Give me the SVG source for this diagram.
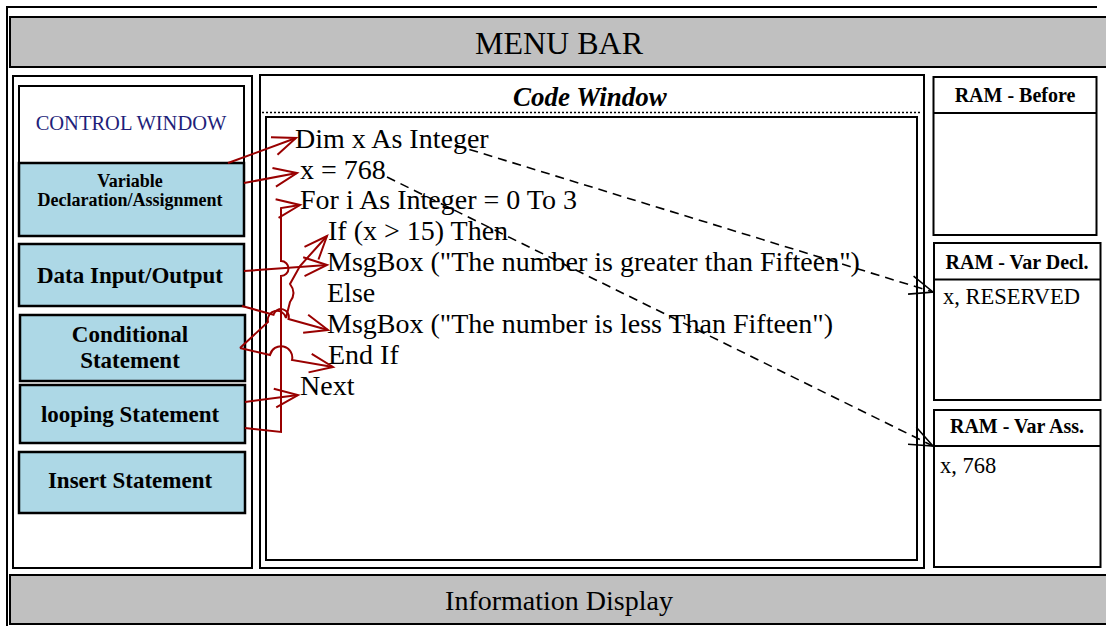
<svg xmlns="http://www.w3.org/2000/svg" width="1106" height="626" viewBox="0 0 1106 626">
  <style>
    .frame { fill: none; stroke: #000; stroke-width: 2; }
    .bar { fill: #c0c0c0; stroke: #000; stroke-width: 2; }
    .panel { fill: #fff; stroke: #000; stroke-width: 2; }
    .btn { fill: #add8e6; stroke: #000; stroke-width: 2.5; }
    .serif { font-family: "Liberation Serif", "Times New Roman", serif; fill: #000; }
    .btntxt { font-family: "Liberation Serif", "Times New Roman", serif; font-weight: bold; text-anchor: middle; fill: #000; }
    .code { font-family: "Liberation Serif", "Times New Roman", serif; font-size: 28px; fill: #000; }
    .ramhead { font-family: "Liberation Serif", "Times New Roman", serif; font-weight: bold; font-size: 20px; text-anchor: middle; fill: #000; }
    .red { fill: none; stroke: #990000; stroke-width: 2; marker-end: url(#arrRed); }
    .dash { fill: none; stroke: #000; stroke-width: 1.6; stroke-dasharray: 9 6; marker-end: url(#arrBlack); }
  </style>
  <defs>
    <marker id="arrRed" markerUnits="userSpaceOnUse" viewBox="0 0 30 22" markerWidth="30" markerHeight="22" refX="26" refY="11" orient="auto">
      <path d="M2.8,1.6 L26,11 L2.8,20.4" fill="none" stroke="#990000" stroke-width="2"/>
    </marker>
    <marker id="arrBlack" markerUnits="userSpaceOnUse" viewBox="0 0 30 22" markerWidth="30" markerHeight="22" refX="26" refY="11" orient="auto">
      <path d="M2.8,1.6 L26,11 L2.8,20.4" fill="none" stroke="#000" stroke-width="1.6"/>
    </marker>
  </defs>

  <rect width="1106" height="626" fill="#fff"/>

  <!-- outer frame -->
  <g id="frame">
    <path class="frame" d="M7,640 L7,7 L1097,7"/>
  </g>

  <!-- menu bar -->
  <g id="menu-bar">
    <rect class="bar" x="10" y="17" width="1100" height="50"/>
    <text class="serif" x="559" y="54" font-size="32" text-anchor="middle">MENU BAR</text>
  </g>

  <!-- left control panel -->
  <g id="control-panel">
    <rect class="panel" x="13" y="76" width="239" height="492"/>
  </g>
  <g id="control-window">
    <rect class="panel" x="19" y="86" width="225" height="77"/>
    <text class="serif" x="131" y="130" font-size="20.5" text-anchor="middle" style="fill:#1f1f7a">CONTROL WINDOW</text>
  </g>
  <g id="btn-variable">
    <rect class="btn" x="19" y="163" width="225" height="73"/>
    <text class="btntxt" x="130" y="187" font-size="18">Variable</text>
    <text class="btntxt" x="130" y="206" font-size="18">Declaration/Assignment</text>
  </g>
  <g id="btn-io">
    <rect class="btn" x="19" y="244" width="225" height="62"/>
    <text class="btntxt" x="130" y="283" font-size="23">Data Input/Output</text>
  </g>
  <g id="btn-conditional">
    <rect class="btn" x="20" y="315" width="225" height="66"/>
    <text class="btntxt" x="130" y="342" font-size="23">Conditional</text>
    <text class="btntxt" x="130" y="368" font-size="23">Statement</text>
  </g>
  <g id="btn-looping">
    <rect class="btn" x="20" y="385" width="225" height="58"/>
    <text class="btntxt" x="130" y="422" font-size="23">looping Statement</text>
  </g>
  <g id="btn-insert">
    <rect class="btn" x="19" y="452" width="226" height="61"/>
    <text class="btntxt" x="130" y="488" font-size="23">Insert Statement</text>
  </g>

  <!-- code window -->
  <g id="code-window">
    <rect class="panel" x="260" y="75" width="664" height="493"/>
    <text class="serif" x="590" y="106" font-size="27" font-weight="bold" font-style="italic" text-anchor="middle">Code Window</text>
    <line x1="262" y1="112.5" x2="922" y2="112.5" stroke="#000" stroke-width="1.6" stroke-dasharray="2 2"/>
    <rect class="panel" x="266" y="117" width="651" height="443"/>
    <text class="code" x="295" y="148">Dim x As Integer</text>
    <text class="code" x="300" y="178.5">x = 768</text>
    <text class="code" x="300" y="209">For i As Integer = 0 To 3</text>
    <text class="code" x="328" y="240">If (x &gt; 15) Then</text>
    <text class="code" x="327" y="271">MsgBox ("The number is greater than Fifteen")</text>
    <text class="code" x="327" y="302">Else</text>
    <text class="code" x="327" y="333">MsgBox ("The number is less Than Fifteen")</text>
    <text class="code" x="328" y="364">End If</text>
    <text class="code" x="300" y="395">Next</text>
  </g>

  <!-- RAM panels -->
  <g id="ram-before">
    <rect class="panel" x="933.5" y="77" width="163" height="158"/>
    <line x1="933.5" y1="113" x2="1096.5" y2="113" stroke="#000" stroke-width="2"/>
    <text class="ramhead" x="1015" y="102">RAM - Before</text>
  </g>
  <g id="ram-var-decl">
    <rect class="panel" x="934" y="243" width="166.5" height="157"/>
    <line x1="934" y1="279.5" x2="1100.5" y2="279.5" stroke="#000" stroke-width="2"/>
    <text class="ramhead" x="1017" y="269">RAM - Var Decl.</text>
    <text class="serif" x="943" y="304" font-size="22.5">x, RESERVED</text>
  </g>
  <g id="ram-var-ass">
    <rect class="panel" x="934" y="410" width="166.5" height="157"/>
    <line x1="934" y1="446" x2="1100.5" y2="446" stroke="#000" stroke-width="2"/>
    <text class="ramhead" x="1017" y="433">RAM - Var Ass.</text>
    <text class="serif" x="940" y="472.5" font-size="22.5">x, 768</text>
  </g>

  <!-- information display -->
  <g id="info-display">
    <rect class="bar" x="10" y="575" width="1100" height="49"/>
    <text class="serif" x="559" y="610" font-size="28" text-anchor="middle">Information Display</text>
  </g>

  <!-- connectors -->
  <g id="connectors">
    <!-- statement buttons to code lines -->
    <path class="red" d="M228,163 L296,138"/>
    <path class="red" d="M244,183 L297,173"/>
    <path class="red" d="M245,428 L281,432 L281,276 A7.5,7.5 0 0 0 281,261 L281,208 L300,205"/>
    <path class="red" d="M245,402 L298,395"/>
    <path class="red" d="M244,271 L327,265"/>
    <path class="red" d="M242,306 L273.5,314.8 A7.6,7.6 0 0 1 288.5,319 L328,330"/>
    <path class="red" d="M240,348 L270,355 A11,11 0 0 1 292,360 L333,367"/>
    <path class="red" d="M240,348 L268,322 A9,9 0 0 1 286,318 L290,302 Q297,293 290,284 L300,266 L327,236"/>
    <!-- declaration and assignment into RAM -->
    <path class="dash" d="M455,145 L933,292"/>
    <path class="dash" d="M387,177 L933,446"/>
  </g>
</svg>
